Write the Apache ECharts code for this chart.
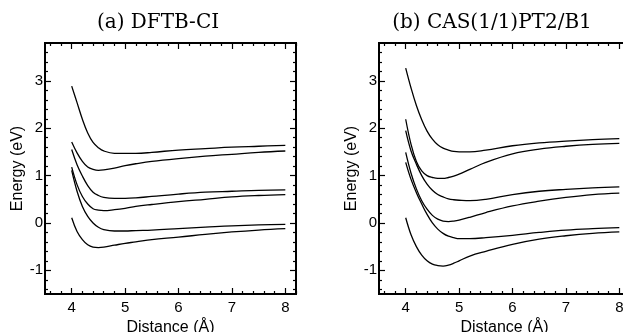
<!DOCTYPE html>
<html>
<head>
<meta charset="utf-8">
<script src="https://cdn.jsdelivr.net/npm/echarts@6/dist/echarts.min.js"></script>
<style>
html,body{margin:0;padding:0;background:#fff;}
#chart{width:623px;height:332px;}
</style>
</head>
<body>
<div id="chart"></div>
<script>
// ---- data ----
const titleA = "(a) DFTB-CI";
const titleB = "(b) CAS(1/1)PT2/B1";
const xName = "Distance (Å)";
const yName = "Energy (eV)";
const xTicks = [4, 5, 6, 7, 8];
const yTicks = [-1, 0, 1, 2, 3];
const xMinorTicks = [3.6,3.8,4.2,4.4,4.6,4.8,5.2,5.4,5.6,5.8,6.2,6.4,6.6,6.8,7.2,7.4,7.6,7.8,8.2];
const yMinorTicks = [-1.4,-1.2,-0.8,-0.6,-0.4,-0.2,0.2,0.4,0.6,0.8,1.2,1.4,1.6,1.8,2.2,2.4,2.6,2.8,3.2,3.4,3.6];

const xA = [4.0,4.1,4.2,4.3,4.4,4.5,4.6,4.8,5.0,5.2,5.5,6.0,6.5,7.0,7.5,8.0];
const a1 = [2.89,2.54,2.19,1.90,1.70,1.59,1.52,1.47,1.47,1.47,1.49,1.54,1.57,1.60,1.62,1.64];
const a2 = [1.71,1.48,1.30,1.18,1.13,1.11,1.12,1.16,1.21,1.25,1.30,1.36,1.41,1.45,1.49,1.52];
const a3 = [1.55,1.23,0.99,0.79,0.65,0.58,0.54,0.52,0.52,0.53,0.56,0.61,0.65,0.67,0.69,0.70];
const a4 = [1.18,0.81,0.56,0.40,0.30,0.27,0.26,0.28,0.31,0.35,0.39,0.45,0.50,0.55,0.58,0.60];
const a5 = [1.11,0.67,0.35,0.14,0.00,-0.09,-0.14,-0.17,-0.17,-0.16,-0.15,-0.12,-0.09,-0.06,-0.04,-0.03];
const a6 = [0.11,-0.18,-0.35,-0.46,-0.51,-0.52,-0.51,-0.47,-0.43,-0.40,-0.35,-0.30,-0.24,-0.19,-0.15,-0.12];

const xB = [4.0,4.1,4.2,4.3,4.4,4.5,4.6,4.7,4.8,4.9,5.0,5.2,5.5,6.0,6.5,7.0,7.5,8.0];
const b1 = [3.27,2.85,2.48,2.18,1.94,1.77,1.65,1.58,1.54,1.51,1.50,1.50,1.54,1.63,1.69,1.73,1.76,1.78];
const b2 = [2.19,1.66,1.30,1.10,1.00,0.96,0.94,0.94,0.96,0.99,1.03,1.13,1.28,1.46,1.56,1.62,1.66,1.68];
const b3 = [1.95,1.52,1.24,1.00,0.82,0.69,0.60,0.55,0.51,0.49,0.48,0.47,0.50,0.60,0.67,0.71,0.74,0.76];
const b4 = [1.49,1.05,0.72,0.47,0.29,0.16,0.08,0.04,0.03,0.04,0.06,0.12,0.22,0.36,0.46,0.54,0.60,0.63];
const b5 = [1.28,0.92,0.64,0.40,0.18,0.00,-0.13,-0.22,-0.28,-0.31,-0.33,-0.33,-0.31,-0.26,-0.20,-0.15,-0.12,-0.10];
const b6 = [0.11,-0.25,-0.50,-0.68,-0.80,-0.87,-0.90,-0.91,-0.89,-0.85,-0.80,-0.70,-0.60,-0.45,-0.34,-0.27,-0.22,-0.19];

const X_MIN = 3.5, X_MAX = 8.2, Y_MIN = -1.5, Y_MAX = 3.8;

// ---- build ----
const sans = "Liberation Sans";
const tickStyle = {color: '#000', width: 1.2};
function xAxes(gi) {
  const base = {gridIndex: gi, type: 'value', min: X_MIN, max: X_MAX,
    splitLine: {show: false}, axisLine: {show: false, onZero: false}};
  return [
    Object.assign({}, base, {position: 'bottom',
      name: xName, nameLocation: 'middle', nameGap: 21,
      nameTextStyle: {fontFamily: sans, fontSize: 16, color: '#000'},
      axisTick: {show: true, inside: true, length: 6, customValues: xTicks, lineStyle: tickStyle},
      axisLabel: {show: true, customValues: xTicks, margin: 6, fontFamily: sans, fontSize: 15, color: '#000'}}),
    Object.assign({}, base, {position: 'bottom',
      axisTick: {show: true, inside: true, length: 3, customValues: xMinorTicks, lineStyle: tickStyle},
      axisLabel: {show: false}}),
    Object.assign({}, base, {position: 'top',
      axisTick: {show: true, inside: true, length: 6, customValues: xTicks, lineStyle: tickStyle},
      axisLabel: {show: false}}),
    Object.assign({}, base, {position: 'top',
      axisTick: {show: true, inside: true, length: 3, customValues: xMinorTicks, lineStyle: tickStyle},
      axisLabel: {show: false}})
  ];
}
function yAxes(gi) {
  const base = {gridIndex: gi, type: 'value', min: Y_MIN, max: Y_MAX,
    splitLine: {show: false}, axisLine: {show: false, onZero: false}};
  return [
    Object.assign({}, base, {position: 'left',
      name: yName, nameLocation: 'middle', nameGap: 11, nameRotate: 90,
      nameTextStyle: {fontFamily: sans, fontSize: 16, color: '#000'},
      axisTick: {show: true, inside: true, length: 6, customValues: yTicks, lineStyle: tickStyle},
      axisLabel: {show: true, customValues: yTicks, margin: 2, fontFamily: sans, fontSize: 15, color: '#000'}}),
    Object.assign({}, base, {position: 'left',
      axisTick: {show: true, inside: true, length: 3, customValues: yMinorTicks, lineStyle: tickStyle},
      axisLabel: {show: false}}),
    Object.assign({}, base, {position: 'right',
      axisTick: {show: true, inside: true, length: 6, customValues: yTicks, lineStyle: tickStyle},
      axisLabel: {show: false}}),
    Object.assign({}, base, {position: 'right',
      axisTick: {show: true, inside: true, length: 3, customValues: yMinorTicks, lineStyle: tickStyle},
      axisLabel: {show: false}})
  ];
}
function mk(xs, ys, axisIdx) {
  return {type: 'line', xAxisIndex: axisIdx, yAxisIndex: axisIdx,
    data: xs.map((x, i) => [x, ys[i]]), showSymbol: false, smooth: 0.4,
    lineStyle: {color: '#000', width: 1.3}, silent: true, animation: false};
}

const option = {
  backgroundColor: '#fff',
  animation: false,
  title: [
    {text: titleA, left: 153, top: 8, textAlign: 'center',
      textStyle: {fontFamily: 'DejaVu Serif', fontSize: 20, fontWeight: 'normal', color: '#000'}},
    {text: titleB, left: 487, top: 8, textAlign: 'center',
      textStyle: {fontFamily: 'DejaVu Serif', fontSize: 20, fontWeight: 'normal', color: '#000'}}
  ],
  grid: [
    {left: 45, top: 43, width: 251, height: 251, show: true, borderColor: '#000', borderWidth: 2,
      backgroundColor: 'transparent', containLabel: false, outerBoundsMode: 'none'},
    {left: 379, top: 43, width: 251, height: 251, show: true, borderColor: '#000', borderWidth: 2,
      backgroundColor: 'transparent', containLabel: false, outerBoundsMode: 'none'}
  ],
  xAxis: xAxes(0).concat(xAxes(1)),
  yAxis: yAxes(0).concat(yAxes(1)),
  series: [
    mk(xA, a1, 0), mk(xA, a2, 0), mk(xA, a3, 0), mk(xA, a4, 0), mk(xA, a5, 0), mk(xA, a6, 0),
    mk(xB, b1, 4), mk(xB, b2, 4), mk(xB, b3, 4), mk(xB, b4, 4), mk(xB, b5, 4), mk(xB, b6, 4)
  ]
};
const chart = echarts.init(document.getElementById('chart'), null, {renderer: 'canvas'});
chart.setOption(option);
</script>
</body>
</html>
